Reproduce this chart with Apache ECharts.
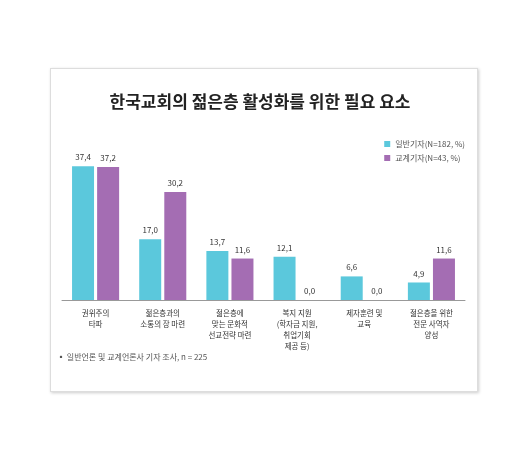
<!DOCTYPE html><html><head><meta charset="utf-8"><script src="https://cdn.jsdelivr.net/npm/echarts@6/dist/echarts.min.js"></script>
<style>body{margin:0;background:#fff}#box{position:absolute;left:50px;top:68px;width:426px;height:322px;border:1px solid #ddd;box-shadow:1px 1px 3px #ccc}#c{position:absolute;left:0;top:0;width:520px;height:471px}</style></head><body><div id="box"></div><div id="c"></div><script>
const categories=['권위주의\n타파','젊은층과의\n소통의 장 마련','젊은층에\n맞는 문화적\n선교전략 마련','복지 지원\n(학자금 지원,\n취업기회\n제공 등)','제자훈련 및\n교육','젊은층을 위한\n전문 사역자\n양성'];
const general=[37.4,17.0,13.7,12.1,6.6,4.9];
const church=[37.2,30.2,11.6,0.0,0.0,11.6];
const names=['일반기자(N=182, %)','교계기자(N=43, %)'];
const fmt=p=>p.value.toFixed(1).replace('.',',');
const ch=echarts.init(document.getElementById('c'));
const ff='"Noto Sans CJK KR"';
ch.setOption({animation:false,textStyle:{fontFamily:ff},
title:{text:'한국교회의 젊은층 활성화를 위한 필요 요소',left:'center',top:88,textStyle:{fontSize:17,fontWeight:'bold',color:'#222',fontFamily:ff}},
legend:{orient:'vertical',right:50,top:135,itemWidth:6,itemHeight:6,itemGap:6,icon:'rect',textStyle:{fontSize:8,color:'#555'}},
grid:{left:62,right:55,top:157,bottom:171},
xAxis:{type:'category',data:categories,axisTick:{show:false},axisLine:{lineStyle:{color:'#999'}},axisLabel:{fontSize:7.5,color:'#333',lineHeight:11,interval:0}},
yAxis:{type:'value',min:0,max:40,show:false,splitLine:{show:false}},
series:[{name:names[0],type:'bar',data:general,barWidth:22,barGap:'14%',itemStyle:{color:'#5bc8dc'},label:{show:true,position:'top',formatter:fmt,fontSize:8,color:'#333'}},
{name:names[1],type:'bar',data:church,barWidth:22,itemStyle:{color:'#a46db3'},label:{show:true,position:'top',formatter:fmt,fontSize:8,color:'#333'}}],
graphic:[{type:'text',left:57,top:353,style:{text:'▪ 일반언론 및 교계언론사 기자 조사, n = 225',fontSize:8,fill:'#555',fontFamily:ff}}]});
</script></body></html>
